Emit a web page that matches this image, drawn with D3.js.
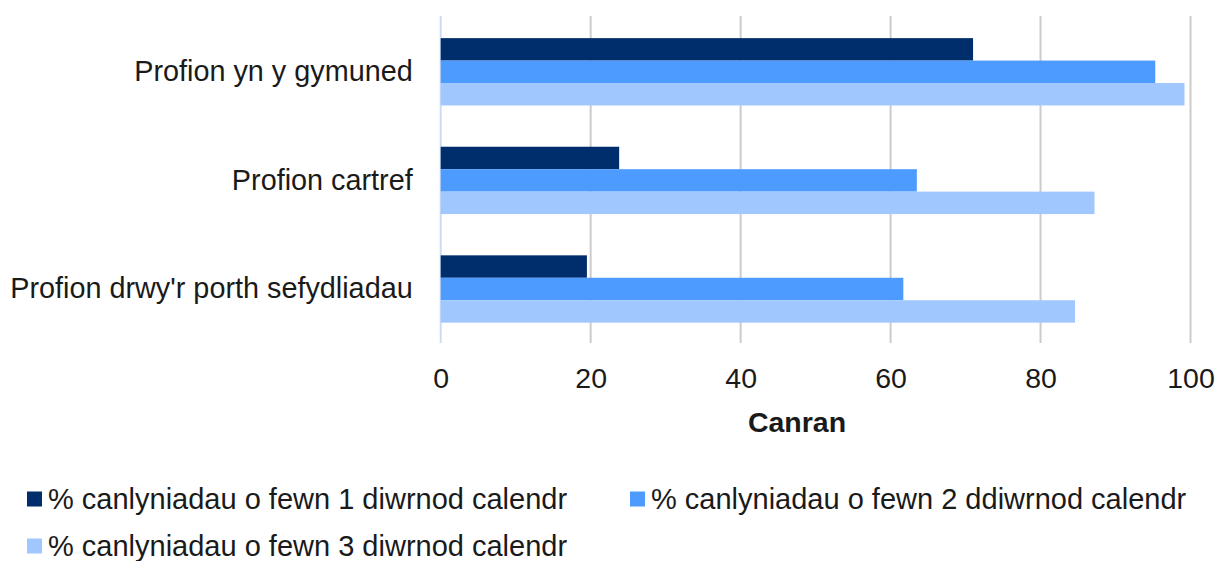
<!DOCTYPE html>
<html>
<head>
<meta charset="utf-8">
<script src="https://cdn.jsdelivr.net/npm/d3@7"></script>
<style>
  html, body { margin: 0; padding: 0; background: #fff; }
  svg { display: block; font-family: "Liberation Sans", Arial, sans-serif; }
</style>
</head>
<body>
<svg id="chart" width="1218" height="561"></svg>
<script>
var categories = ["Profion yn y gymuned", "Profion cartref", "Profion drwy'r porth sefydliadau"];
var seriesNames = [
  "% canlyniadau o fewn 1 diwrnod calendr",
  "% canlyniadau o fewn 2 ddiwrnod calendr",
  "% canlyniadau o fewn 3 diwrnod calendr"
];
var oneDay = [71.0, 23.8, 19.5];
var twoDays = [95.3, 63.5, 61.7];
var threeDays = [99.2, 87.2, 84.6];
var xTicks = [0, 20, 40, 60, 80, 100];
var colors = ["#002d6b", "#4e9bff", "#a0c8ff"];

var svg = d3.select("#chart");

var x = d3.scaleLinear().domain([0, 100]).range([440.7, 1190.5]);
var y = d3.scaleBand().domain(categories).range([17.5, 343.3])
  .paddingInner(0.38).paddingOuter(0.19);
var ySeries = d3.scaleBand().domain(seriesNames).range([0, y.bandwidth()]);
var color = d3.scaleOrdinal().domain(seriesNames).range(colors);

var rows = [];
categories.forEach(function(c, i) {
  rows.push({ cat: c, series: seriesNames[0], value: oneDay[i] });
  rows.push({ cat: c, series: seriesNames[1], value: twoDays[i] });
  rows.push({ cat: c, series: seriesNames[2], value: threeDays[i] });
});

// grid lines
svg.append("g")
  .selectAll("line")
  .data(xTicks)
  .enter()
  .append("line")
  .attr("x1", function(d) { return x(d); })
  .attr("x2", function(d) { return x(d); })
  .attr("y1", 16)
  .attr("y2", 343)
  .attr("stroke", function(d) { return d === 0 ? "#cddcf5" : "#cccccc"; })
  .attr("stroke-width", 2);

// bars
svg.append("g")
  .selectAll("rect")
  .data(rows)
  .enter()
  .append("rect")
  .attr("x", x(0))
  .attr("y", function(d) { return y(d.cat) + ySeries(d.series); })
  .attr("width", function(d) { return x(d.value) - x(0); })
  .attr("height", ySeries.bandwidth())
  .attr("fill", function(d) { return color(d.series); });

// x axis
var xAxis = svg.append("g")
  .attr("transform", "translate(0,343)")
  .call(d3.axisBottom(x).tickValues(xTicks).tickSize(0).tickPadding(25));
xAxis.select(".domain").remove();
xAxis.selectAll("text")
  .attr("fill", "#1a1a1a")
  .style("font-size", "28.5px")
  .style("font-family", "'Liberation Sans', Arial, sans-serif");

svg.append("text")
  .attr("x", 797)
  .attr("y", 432)
  .attr("text-anchor", "middle")
  .attr("font-weight", "bold")
  .attr("font-size", "28.5px")
  .attr("fill", "#1a1a1a")
  .text("Canran");

// y axis
var yAxis = svg.append("g")
  .attr("transform", "translate(" + x(0) + ",0)")
  .call(d3.axisLeft(y).tickSize(0).tickPadding(28));
yAxis.select(".domain").remove();
yAxis.selectAll("text")
  .attr("fill", "#1a1a1a")
  .style("font-size", "28.8px")
  .style("font-family", "'Liberation Sans', Arial, sans-serif");

// legend
var legend = svg.append("g")
  .selectAll("g")
  .data(seriesNames)
  .enter()
  .append("g")
  .attr("transform", function(d, i) {
    var col = i % 2, row = Math.floor(i / 2);
    return "translate(" + (col === 0 ? 27 : 630) + "," + (499 + row * 47) + ")";
  });

legend.append("rect")
  .attr("x", 0)
  .attr("y", -7.5)
  .attr("width", 15)
  .attr("height", 15)
  .attr("fill", function(d) { return color(d); });

legend.append("text")
  .attr("x", 21)
  .attr("y", 0)
  .attr("dy", "0.35em")
  .attr("font-size", "29px")
  .attr("fill", "#1a1a1a")
  .text(function(d) { return d; });
</script>
</body>
</html>
